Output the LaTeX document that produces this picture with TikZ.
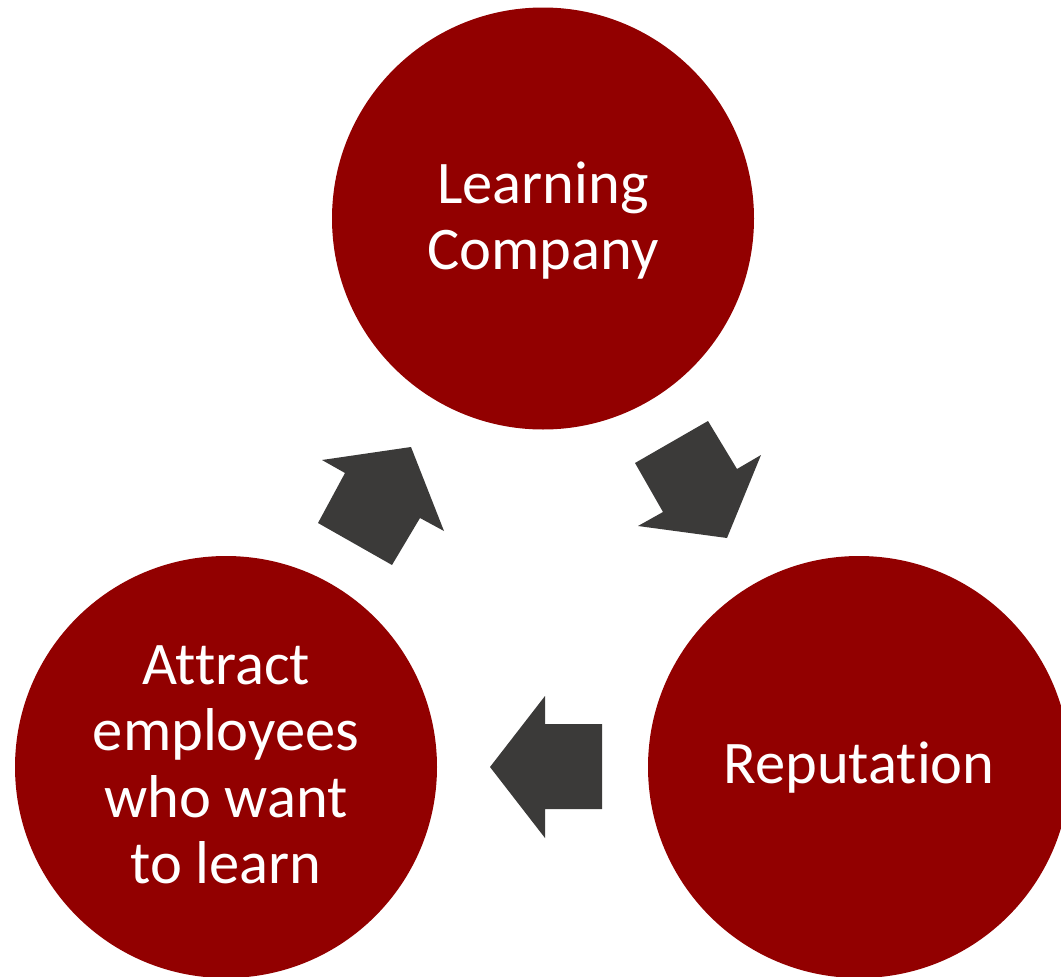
\documentclass[tikz,border=0pt]{standalone}
\usepackage{fontspec}
\setmainfont{Carlito}[Ligatures=NoCommon]
\definecolor{circred}{HTML}{920000}
\definecolor{arrgray}{HTML}{3B3A39}
\begin{document}
\begin{tikzpicture}[x=1pt,y=-1pt,
  bubble/.style={circle,fill=circred,minimum size=422pt,inner sep=0pt},
  lbl/.style={text=white,align=center,font=\fontsize{60.5}{66.5}\selectfont,inner sep=0pt},
  blockarrow/.style={fill=arrgray}]
\useasboundingbox (0,0) rectangle (1061,977);
\node[bubble] (top) at (543,218.5) {};
\node[bubble] (left) at (226,767) {};
\node[bubble] (right) at (859,767) {};
\node[lbl] (toptext) at ([yshift=-2pt]top.center) {Learning\\Company};
\node[lbl] (lefttext) at ([yshift=2pt]left.center) {Attract\\employees\\who want\\to learn};
\node[lbl] (righttext) at ([yshift=-1pt]right.center) {Reputation};
% block arrows
\fill[blockarrow] (490,767) -- (545,696) -- (545,724) -- (602,724) -- (602,809) -- (545,809) -- (545,838) -- cycle;
\fill[blockarrow] (411,447) -- (444,531) -- (420,518) -- (392,565) -- (318,523) -- (345,473) -- (322,460) -- cycle;
\fill[blockarrow] (727,538) -- (638,526) -- (663,512) -- (635,463) -- (708,421) -- (737,469) -- (761,455) -- cycle;
\end{tikzpicture}
\end{document}
